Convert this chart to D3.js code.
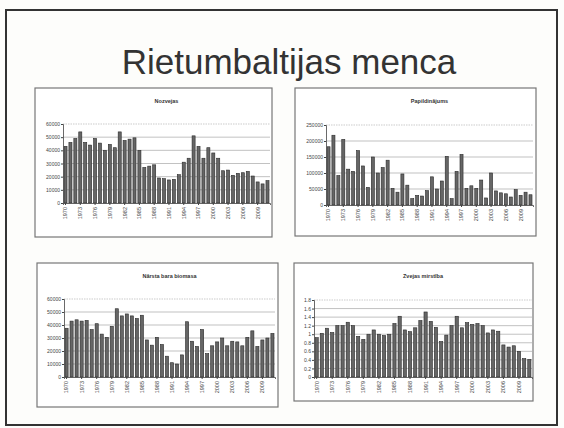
<!DOCTYPE html>
<html>
<head>
<meta charset="utf-8">
<script src="https://cdn.jsdelivr.net/npm/d3@7"></script>
<style>
  body { margin: 0; background: #fff; }
  svg { display: block; }
</style>
</head>
<body>
<script>
"use strict";

const FONT = "'Liberation Sans', Arial, sans-serif";

// years 1970 - 2011
const years = d3.range(1970, 2012);

const nozveja = [43000, 46000, 49000, 54000, 46000, 44000, 49000, 45500, 40000, 44500,
    42000, 54000, 47500, 48500, 49500, 40000, 27000, 28000, 29000, 19000,
    18500, 17500, 18000, 21500, 31000, 34000, 51000, 43000, 34000, 42000,
    38000, 34000, 24500, 25000, 21000, 22500, 23000, 24000, 20500, 16000,
    14500, 17000];

const papildinajums = [182000, 218000, 92000, 205000, 112000, 105000, 170000, 122000, 55000, 150000,
    100000, 117000, 140000, 52000, 40000, 97000, 62000, 20000, 30000, 28000,
    45000, 88000, 50000, 75000, 152000, 20000, 105000, 158000, 52000, 60000,
    52000, 78000, 22000, 100000, 44000, 38000, 35000, 25000, 48000, 30000,
    40000, 32000];

const biomasa = [37500, 43000, 44000, 43000, 43500, 36500, 41000, 33000, 30500, 39000,
    52500, 47000, 48500, 47000, 45000, 47500, 28500, 24500, 30500, 25000,
    16000, 11000, 10000, 17000, 42500, 27500, 23500, 36500, 18000, 24000,
    27000, 30000, 24000, 27500, 27000, 24000, 30500, 35500, 23500, 28500,
    30000, 33500];

const mirstiba = [0.92, 1.02, 1.14, 1.04, 1.2, 1.2, 1.28, 1.2, 0.95, 0.88,
    1.0, 1.1, 1.0, 0.97, 1.0, 1.25, 1.42, 1.1, 1.06, 1.15,
    1.32, 1.52, 1.3, 1.16, 0.83, 0.98, 1.2, 1.42, 1.15, 1.27,
    1.23, 1.25, 1.2, 1.03, 1.1, 1.07, 0.75, 0.7, 0.73, 0.6,
    0.43, 0.41];

const ticks60k = [0, 10000, 20000, 30000, 40000, 50000, 60000];
const ticks250k = [0, 50000, 100000, 150000, 200000, 250000];
const ticksF = [0, 0.2, 0.4, 0.6, 0.8, 1, 1.2, 1.4, 1.6, 1.8];
const yearLabels = years.filter((y) => (y - 1970) % 3 === 0);

const titles = ["Nozvejas", "Papildinājums", "Nārsta bara biomasa", "Zvejas mirstība"];

const svg = d3.select("body").append("svg")
    .attr("width", 564)
    .attr("height", 428);

svg.append("rect")
    .attr("width", 564).attr("height", 428)
    .attr("fill", "#fdfdfb");

// slide frame
svg.append("rect")
    .attr("x", 6).attr("y", 10)
    .attr("width", 551).attr("height", 415)
    .attr("fill", "none")
    .attr("stroke", "#333")
    .attr("stroke-width", 2);

svg.append("text")
    .attr("x", 289).attr("y", 74)
    .attr("text-anchor", "middle")
    .style("font-family", FONT)
    .style("font-size", "35px")
    .attr("fill", "#333")
    .text("Rietumbaltijas menca");

const panels = [
    { box: [35, 88, 237, 149], plot: [63, 124, 270, 203], data: nozveja, ticks: ticks60k, fmt: d3.format("d") },
    { box: [295, 88, 241, 148], plot: [326, 125, 533, 205], data: papildinajums, ticks: ticks250k, fmt: d3.format("d") },
    { box: [37, 263, 241, 144], plot: [64, 299, 275, 377], data: biomasa, ticks: ticks60k, fmt: d3.format("d") },
    { box: [294, 263, 239, 138], plot: [314, 300, 532, 377], data: mirstiba, ticks: ticksF, fmt: (d) => String(d) }
];

panels.forEach((p, i) => drawPanel(p, titles[i]));

function drawPanel(p, title) {
    const g = svg.append("g");
    const [bx, by, bw, bh] = p.box;
    const [x0, y0, x1, y1] = p.plot;

    g.append("rect")
        .attr("x", bx).attr("y", by)
        .attr("width", bw).attr("height", bh)
        .attr("fill", "#fff")
        .attr("stroke", "#777")
        .attr("stroke-width", 1.2);

    g.append("text")
        .attr("x", (x0 + x1) / 2).attr("y", by + 15)
        .attr("text-anchor", "middle")
        .style("font-family", FONT)
        .style("font-size", "5.5px")
        .style("font-weight", "bold")
        .attr("fill", "#333")
        .text(title);

    const x = d3.scaleBand()
        .domain(years)
        .range([x0, x1])
        .paddingInner(0.38)
        .paddingOuter(0.2);

    const y = d3.scaleLinear()
        .domain([0, d3.max(p.ticks)])
        .range([y1, y0]);

    // gridlines
    g.selectAll(".grid")
        .data(p.ticks.slice(1))
        .enter()
        .append("line")
        .attr("x1", x0).attr("x2", x1)
        .attr("y1", (d) => y(d)).attr("y2", (d) => y(d))
        .attr("stroke", (d, k) => k === p.ticks.length - 2 ? "#aaa" : "#999")
        .attr("stroke-dasharray", (d, k) => k === p.ticks.length - 2 ? "1.5,1" : null)
        .attr("stroke-width", 0.6);

    g.selectAll(".bar")
        .data(p.data)
        .enter()
        .append("rect")
        .attr("x", (d, k) => x(years[k]))
        .attr("y", (d) => y(d))
        .attr("width", x.bandwidth())
        .attr("height", (d) => y(0) - y(d))
        .attr("fill", "#666")
        .attr("stroke", "#2a2a2a")
        .attr("stroke-width", 0.6);

    const yAxis = d3.axisLeft(y)
        .tickValues(p.ticks)
        .tickFormat(p.fmt)
        .tickSize(2);

    const ya = g.append("g")
        .attr("transform", `translate(${x0},0)`)
        .call(yAxis);
    ya.select(".domain").attr("stroke", "#444").attr("stroke-width", 0.8);
    ya.selectAll("line").attr("stroke", "#444");
    ya.selectAll("text")
        .style("font-family", FONT)
        .style("font-size", "5px")
        .attr("fill", "#444")
        .attr("x", -3);

    const xAxis = d3.axisBottom(x)
        .tickValues(yearLabels)
        .tickSize(2);

    const xa = g.append("g")
        .attr("transform", `translate(0,${y1})`)
        .call(xAxis);
    xa.select(".domain").attr("stroke", "#444").attr("stroke-width", 0.8);
    xa.selectAll("line").attr("stroke", "#444");
    xa.selectAll("text")
        .style("font-family", FONT)
        .style("font-size", "5.5px")
        .attr("fill", "#444")
        .attr("transform", "rotate(-90)")
        .attr("text-anchor", "end")
        .attr("x", -4)
        .attr("y", 0)
        .attr("dy", "0.35em");
}
</script>
</body>
</html>
